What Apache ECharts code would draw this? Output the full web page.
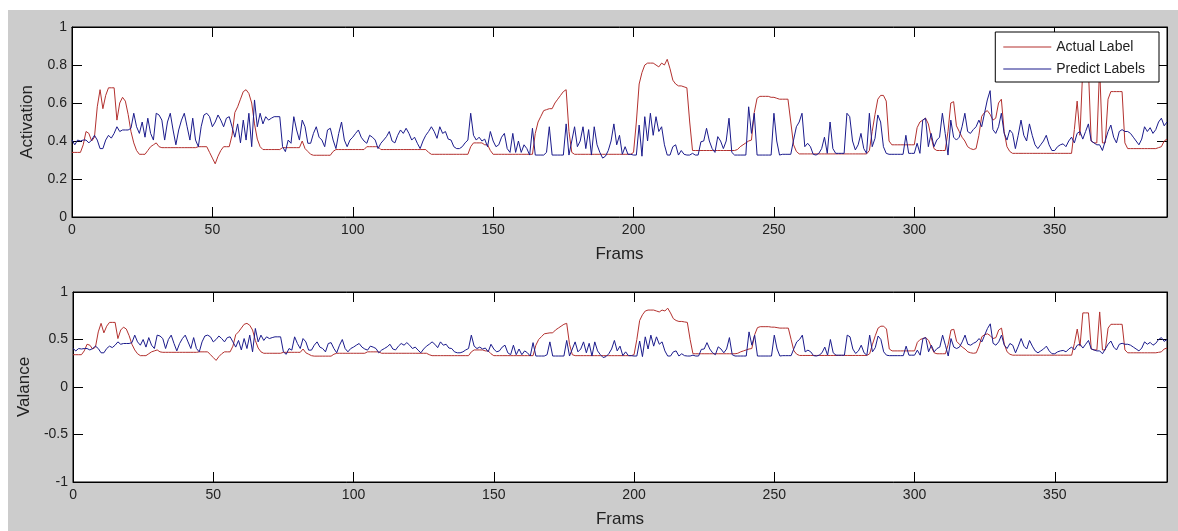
<!DOCTYPE html>
<html>
<head>
<meta charset="utf-8">
<script src="https://cdn.jsdelivr.net/npm/echarts@6/dist/echarts.min.js"></script>
<style>
html,body{margin:0;padding:0;background:#ffffff;width:1178px;height:531px;overflow:hidden;}
#chart{position:absolute;left:8px;top:10px;width:1170px;height:521px;}
</style>
</head>
<body>
<div id="chart"></div>
<script>
// Frame values 0..390
const actualLabel = [
0.34,0.34,0.34,0.34,0.38,0.45,0.44,0.40,0.42,0.58,
0.67,0.57,0.64,0.68,0.68,0.68,0.51,0.60,0.63,0.61,
0.54,0.45,0.39,0.35,0.33,0.33,0.33,0.35,0.37,0.38,
0.39,0.37,0.365,0.365,0.365,0.365,0.365,0.365,0.365,0.365,
0.365,0.365,0.365,0.365,0.365,0.37,0.37,0.37,0.37,0.34,
0.31,0.28,0.32,0.35,0.37,0.37,0.37,0.43,0.55,0.58,
0.62,0.66,0.67,0.65,0.60,0.49,0.41,0.37,0.355,0.355,
0.355,0.355,0.355,0.355,0.355,0.365,0.365,0.365,0.365,0.365,
0.365,0.365,0.40,0.36,0.345,0.33,0.325,0.325,0.325,0.325,
0.325,0.325,0.325,0.345,0.355,0.355,0.355,0.355,0.355,0.355,
0.355,0.355,0.355,0.355,0.355,0.37,0.37,0.37,0.37,0.37,
0.355,0.355,0.355,0.355,0.355,0.355,0.355,0.355,0.355,0.355,
0.355,0.355,0.355,0.355,0.355,0.355,0.355,0.34,0.33,0.33,
0.33,0.33,0.33,0.33,0.33,0.33,0.33,0.33,0.33,0.33,
0.33,0.33,0.37,0.39,0.39,0.39,0.39,0.38,0.38,0.35,
0.33,0.33,0.33,0.33,0.33,0.33,0.33,0.33,0.33,0.33,
0.33,0.33,0.33,0.33,0.33,0.44,0.50,0.53,0.56,0.565,
0.57,0.57,0.60,0.62,0.64,0.66,0.67,0.45,0.34,0.33,
0.33,0.33,0.33,0.33,0.33,0.33,0.33,0.33,0.33,0.33,
0.33,0.33,0.33,0.33,0.33,0.33,0.33,0.33,0.33,0.33,
0.34,0.50,0.70,0.76,0.80,0.81,0.81,0.81,0.80,0.79,
0.81,0.80,0.83,0.78,0.72,0.70,0.69,0.69,0.685,0.68,
0.50,0.35,0.35,0.35,0.35,0.35,0.35,0.35,0.35,0.35,
0.35,0.35,0.35,0.35,0.35,0.35,0.35,0.355,0.37,0.38,
0.39,0.40,0.405,0.55,0.625,0.635,0.635,0.635,0.635,0.63,
0.63,0.625,0.62,0.62,0.62,0.62,0.50,0.38,0.345,0.332,
0.332,0.332,0.332,0.332,0.332,0.332,0.332,0.332,0.332,0.332,
0.332,0.332,0.332,0.332,0.332,0.332,0.332,0.332,0.332,0.332,
0.332,0.332,0.332,0.332,0.35,0.45,0.54,0.62,0.64,0.64,
0.61,0.40,0.38,0.38,0.38,0.38,0.38,0.38,0.38,0.38,
0.38,0.47,0.50,0.51,0.52,0.49,0.42,0.36,0.35,0.35,
0.35,0.35,0.45,0.60,0.607,0.48,0.45,0.42,0.40,0.37,
0.36,0.355,0.36,0.43,0.53,0.55,0.56,0.54,0.51,0.52,
0.60,0.62,0.45,0.37,0.345,0.335,0.335,0.335,0.335,0.335,
0.335,0.335,0.335,0.335,0.335,0.335,0.335,0.335,0.335,0.335,
0.335,0.335,0.335,0.335,0.335,0.335,0.335,0.46,0.61,0.43,
0.78,0.78,0.78,0.40,0.39,0.39,0.79,0.39,0.39,0.62,
0.66,0.66,0.66,0.66,0.66,0.39,0.36,0.36,0.36,0.36,
0.36,0.36,0.36,0.36,0.36,0.36,0.36,0.365,0.37,0.40,
0.41
];
const predictLabels = [
0.405,0.38,0.405,0.40,0.405,0.405,0.39,0.405,0.43,0.405,
0.36,0.36,0.405,0.43,0.415,0.44,0.475,0.45,0.458,0.458,
0.458,0.467,0.546,0.475,0.44,0.50,0.42,0.52,0.44,0.405,
0.546,0.537,0.51,0.405,0.50,0.546,0.458,0.38,0.458,0.51,
0.546,0.475,0.405,0.52,0.405,0.37,0.475,0.537,0.546,0.528,
0.475,0.50,0.537,0.51,0.475,0.52,0.528,0.475,0.42,0.49,
0.39,0.51,0.405,0.546,0.37,0.616,0.475,0.546,0.49,0.528,
0.51,0.52,0.528,0.528,0.528,0.37,0.344,0.405,0.388,0.528,
0.458,0.405,0.51,0.475,0.388,0.388,0.44,0.475,0.42,0.405,
0.37,0.458,0.467,0.405,0.36,0.44,0.50,0.405,0.37,0.405,
0.42,0.44,0.458,0.42,0.40,0.388,0.43,0.42,0.405,0.36,
0.388,0.405,0.423,0.45,0.40,0.39,0.43,0.458,0.44,0.467,
0.44,0.405,0.42,0.388,0.36,0.40,0.43,0.45,0.475,0.45,
0.414,0.475,0.44,0.45,0.41,0.405,0.37,0.36,0.36,0.37,
0.39,0.405,0.546,0.43,0.405,0.42,0.40,0.41,0.37,0.45,
0.40,0.37,0.38,0.42,0.44,0.36,0.34,0.44,0.34,0.40,
0.34,0.38,0.36,0.326,0.467,0.326,0.326,0.326,0.326,0.34,
0.475,0.326,0.326,0.326,0.326,0.326,0.49,0.326,0.40,0.475,
0.37,0.40,0.475,0.36,0.46,0.326,0.475,0.38,0.34,0.31,
0.32,0.35,0.40,0.49,0.38,0.43,0.33,0.37,0.33,0.33,
0.326,0.326,0.484,0.32,0.528,0.40,0.546,0.43,0.528,0.45,
0.475,0.38,0.326,0.326,0.37,0.38,0.326,0.35,0.33,0.326,
0.326,0.335,0.326,0.326,0.396,0.40,0.467,0.40,0.36,0.34,
0.423,0.40,0.36,0.40,0.52,0.34,0.326,0.326,0.326,0.326,
0.326,0.58,0.44,0.546,0.326,0.326,0.326,0.326,0.326,0.326,
0.546,0.40,0.326,0.33,0.33,0.33,0.33,0.405,0.475,0.50,
0.546,0.37,0.388,0.37,0.33,0.326,0.335,0.36,0.42,0.335,
0.50,0.36,0.335,0.335,0.335,0.335,0.546,0.528,0.40,0.353,
0.38,0.44,0.36,0.335,0.546,0.37,0.414,0.537,0.50,0.37,
0.335,0.33,0.33,0.33,0.33,0.33,0.33,0.43,0.335,0.335,
0.335,0.388,0.335,0.51,0.52,0.37,0.44,0.37,0.405,0.42,
0.546,0.44,0.326,0.51,0.42,0.405,0.42,0.475,0.546,0.45,
0.44,0.46,0.475,0.51,0.475,0.546,0.616,0.665,0.46,0.44,
0.475,0.546,0.44,0.405,0.458,0.44,0.36,0.43,0.51,0.43,
0.40,0.49,0.43,0.38,0.36,0.38,0.40,0.43,0.38,0.35,
0.35,0.37,0.38,0.385,0.37,0.40,0.42,0.39,0.44,0.45,
0.41,0.45,0.49,0.40,0.39,0.38,0.38,0.35,0.40,0.45,
0.484,0.42,0.39,0.45,0.46,0.45,0.45,0.44,0.42,0.40,
0.38,0.41,0.475,0.45,0.47,0.44,0.46,0.50,0.52,0.48,
0.50
];
// The Valance panel shows the same curves as the Activation panel
const valanceActual = actualLabel;
const valancePredict = predictLabels;

const seriesNames = ['Actual Label', 'Predict Labels'];
const panelNames = ['Activation', 'Valance'];
const xName = 'Frams';

const toPoints = arr => arr.map((v, i) => [i, v]);

const FONT = '"Liberation Sans", Arial, Helvetica, sans-serif';
const RED = '#b3312f';
const BLUE = '#1b1b8c';
const XMAX = 390;

function xAxisMain(gi) {
  return {
    type: 'value', gridIndex: gi, min: 0, max: XMAX, interval: 50,
    name: xName, nameLocation: 'middle', nameGap: 29,
    nameTextStyle: { fontSize: 17, color: '#222', fontFamily: FONT },
    axisLine: { show: true, onZero: false, lineStyle: { color: '#000', width: 1 } },
    axisTick: { show: true, inside: true, length: 10, lineStyle: { color: '#000' } },
    axisLabel: { show: true, showMaxLabel: false, margin: 6, fontSize: 14, color: '#222', fontFamily: FONT },
    splitLine: { show: false }
  };
}
function xAxisTop(gi) {
  return {
    type: 'value', gridIndex: gi, position: 'top', min: 0, max: XMAX, interval: 50,
    axisLine: { show: true, onZero: false, lineStyle: { color: '#000', width: 1 } },
    axisTick: { show: true, inside: true, length: 10, lineStyle: { color: '#000' } },
    axisLabel: { show: false }, splitLine: { show: false }
  };
}
function yAxisMain(gi, min, max, interval, name, gap) {
  return {
    type: 'value', gridIndex: gi, min, max, interval,
    name, nameLocation: 'middle', nameGap: gap,
    nameTextStyle: { fontSize: 17, color: '#222', fontFamily: FONT },
    axisLine: { show: true, onZero: false, lineStyle: { color: '#000', width: 1 } },
    axisTick: { show: true, inside: true, length: 10, lineStyle: { color: '#000' } },
    axisLabel: { show: true, margin: 5, fontSize: 14, color: '#222', fontFamily: FONT },
    splitLine: { show: false }
  };
}
function yAxisRight(gi, min, max, interval) {
  return {
    type: 'value', gridIndex: gi, position: 'right', min, max, interval,
    axisLine: { show: true, onZero: false, lineStyle: { color: '#000', width: 1 } },
    axisTick: { show: true, inside: true, length: 10, lineStyle: { color: '#000' } },
    axisLabel: { show: false }, splitLine: { show: false }
  };
}
function line(name, data, color, xi, yi) {
  return {
    type: 'line', name, data: toPoints(data), xAxisIndex: xi, yAxisIndex: yi,
    symbol: 'none', showSymbol: false, animation: false,
    lineStyle: { color, width: 1 }, itemStyle: { color }
  };
}

const chart = echarts.init(document.getElementById('chart'), null, { renderer: 'canvas' });
chart.setOption({
  backgroundColor: '#cccccc',
  animation: false,
  textStyle: { fontFamily: FONT },
  grid: [
    { left: 64, top: 17, width: 1095, height: 190, show: true, backgroundColor: '#ffffff', borderColor: '#000', borderWidth: 1 },
    { left: 64, top: 282, width: 1095, height: 190, show: true, backgroundColor: '#ffffff', borderColor: '#000', borderWidth: 1 }
  ],
  xAxis: [xAxisMain(0), xAxisTop(0), xAxisMain(1), xAxisTop(1)],
  yAxis: [
    yAxisMain(0, 0, 1, 0.2, panelNames[0], 36), yAxisRight(0, 0, 1, 0.2),
    yAxisMain(1, -1, 1, 0.5, panelNames[1], 40), yAxisRight(1, -1, 1, 0.5)
  ],
  legend: {
    data: seriesNames.map(n => ({ name: n, icon: 'rect' })),
    orient: 'vertical', right: 19, top: 22,
    backgroundColor: '#ffffff', borderColor: '#000', borderWidth: 1,
    padding: [8, 14, 6, 8], itemGap: 8, itemWidth: 48, itemHeight: 1,
    textStyle: { fontSize: 14, color: '#222', fontFamily: FONT, lineHeight: 14, height: 14 }
  },
  series: [
    line(seriesNames[0], actualLabel, RED, 0, 0),
    line(seriesNames[1], predictLabels, BLUE, 0, 0),
    line(seriesNames[0], valanceActual, RED, 2, 2),
    line(seriesNames[1], valancePredict, BLUE, 2, 2)
  ]
});
</script>
</body>
</html>
